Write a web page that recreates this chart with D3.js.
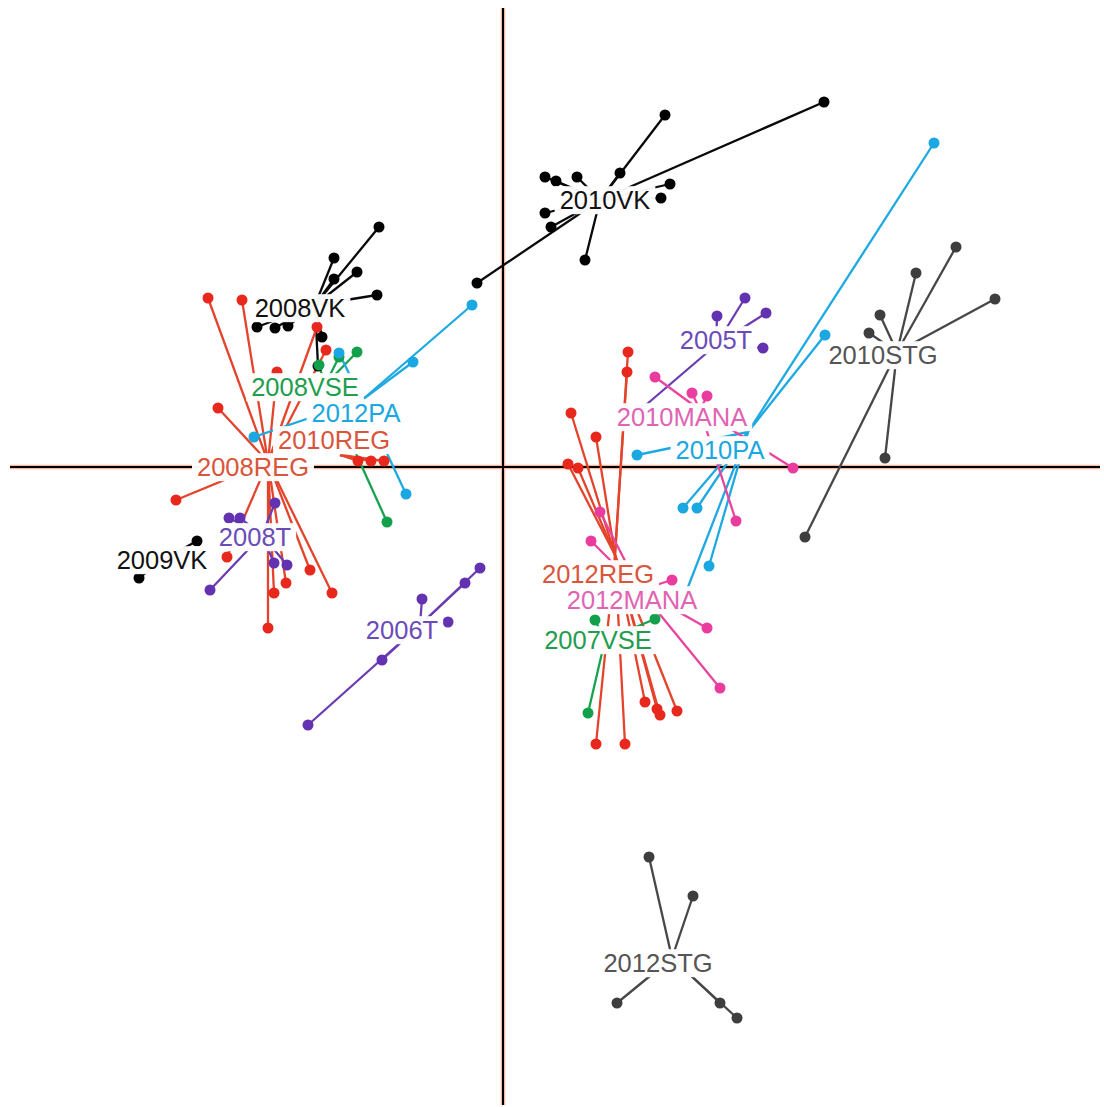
<!DOCTYPE html>
<html>
<head>
<meta charset="utf-8">
<script src="https://cdn.jsdelivr.net/npm/d3@7"></script>
<style>
  html, body { margin: 0; padding: 0; background: #fff; }
  svg { display: block; }
</style>
</head>
<body>
<svg id="chart" width="1104" height="1107"></svg>
<script>
// ---- Data (factor-plane coordinates) ----
const groups   = ["2010VK","2008VK","2009VK","2008REG","2010REG","2012REG","2008VSE","2007VSE","2012PA","2010PA","2005T","2008T","2006T","2010MANA","2012MANA","2010STG","2012STG"];
const groupType = ["VK","VK","VK","REG","REG","REG","VSE","VSE","PA","PA","T","T","T","MANA","MANA","STG","STG"];
const centroidX = [0.97, -1.88, -3.41, -2.35, -1.63, 1.12, -1.78, 1.02, -1.41, 2.45, 2.13, -2.41, -0.83, 1.97, 1.37, 3.94, 1.69];
const centroidY = [2.67, 1.62, -0.93, 0.05, 0.12, -0.88, 0.82, -1.73, 0.67, 0.35, 1.22, -0.68, -1.58, 0.57, -1.23, 1.15, -4.91];
const labelX    = [1.02, -2.03, -3.41, -2.50, -1.69, 0.95, -1.98, 0.95, -1.47, 2.17, 2.13, -2.48, -1.01, 1.79, 1.29, 3.80, 1.55];
const labelY    = [2.67, 1.59, -0.93, 0.00, 0.27, -1.07, 0.80, -1.73, 0.54, 0.17, 1.27, -0.70, -1.63, 0.50, -1.33, 1.12, -4.96];

const pointGroup = [
  0,0,0,0,0,0,0,0,0,0,0,0,
  1,1,1,1,1,1,1,1,1,1,
  2,2,
  3,3,3,3,3,3,3,3,3,3,3,3,3,
  4,4,4,
  5,5,5,5,5,5,5,5,5,5,5,5,
  6,6,6,6,
  7,7,7,
  8,8,8,8,8,
  9,9,9,9,9,9,9,
  10,10,10,10,10,
  11,11,11,11,11,11,
  12,12,12,12,12,12,
  13,13,13,13,13,
  14,14,14,14,14,
  15,15,15,15,15,15,15,
  16,16,16,16,16
];
const pointX = [
  3.21, 1.62, 1.17, 0.42, 0.53, 0.74, 1.67, 0.42, 0.48, -0.26, 0.82, 1.58,
  -1.24, -1.69, -1.46, -1.69, -1.26, -2.46, -2.28, -2.15, -1.81, -1.85,
  -3.06, -3.64,
  -2.95, -2.61, -2.85, -3.27, -2.76, -2.35, -2.29, -2.17, -1.93, -1.71, -1.86, -1.77, -2.26,
  -1.45, -1.32, -1.19,
  1.25, 1.24, 0.68, 0.93, 0.65, 0.75, 1.42, 1.54, 1.74, 1.57, 0.93, 1.22,
  -1.84, -1.64, -1.46, -1.16,
  0.92, 1.52, 0.85,
  -0.31, -0.90, -0.97, -2.49, -1.64,
  4.31, 3.22, 1.34, 1.80, 1.94, 2.06, 1.80,
  2.14, 2.42, 2.63, 2.60, 1.37,
  -2.74, -2.63, -2.93, -2.16, -2.29, -2.28,
  -0.23, -0.38, -0.81, -1.21, -1.95, -0.55,
  1.52, 1.89, 2.04, 2.90, 2.33,
  0.88, 2.04, 2.17, 1.69, 0.97,
  4.13, 4.53, 4.92, 3.77, 3.66, 3.82, 3.02,
  1.46, 1.90, 1.14, 2.17, 2.34
];
const pointY = [
  3.65, 3.52, 2.94, 2.90, 2.86, 2.90, 2.83, 2.54, 2.40, 1.84, 2.07, 2.69,
  2.40, 2.09, 1.95, 1.88, 1.72, 1.40, 1.39, 1.41, 1.30, 1.01,
  -0.74, -1.11,
  1.69, 1.67, 0.59, -0.33, -0.90, -1.61, -1.26, -1.16, -1.03, -1.26, 1.40, 1.17, 0.95,
  0.06, 0.06, 0.06,
  1.15, 0.95, 0.54, 0.30, 0.03, -0.01, -2.35, -2.42, -2.44, -2.48, -2.77, -2.77,
  1.02, 1.10, 1.15, -0.55,
  -1.53, -1.52, -2.46,
  1.62, 1.05, -0.27, 0.30, 1.14,
  3.24, 1.32, 0.12, -0.41, -0.41, -0.99, -1.33,
  1.51, 1.69, 1.54, 1.19, 0.57,
  -0.51, -0.51, -1.23, -0.98, -0.96, -0.36,
  -1.01, -1.16, -1.32, -1.93, -2.58, -1.55,
  0.90, 0.74, 0.71, -0.01, -0.54,
  -0.74, -1.61, -2.21, -1.13, -0.45,
  1.94, 2.20, 1.68, 1.52, 1.34, 0.09, -0.70,
  -3.90, -4.29, -5.36, -5.36, -5.51
];

// ---- Styles ----
const lineColor  = {VK:"#0a0a0a", REG:"#e4432c", VSE:"#17a24f", PA:"#1ea9e1", T:"#6a3db3", MANA:"#e8459e", STG:"#474747"};
const pointColor = {VK:"#000000", REG:"#e8281c", VSE:"#12a14a", PA:"#1aa7e2", T:"#6232b0", MANA:"#ea3b9e", STG:"#3e3e3e"};
const labelColor = {VK:"#111111", REG:"#d9553c", VSE:"#1e9e4e", PA:"#1ba7e0", T:"#6a4cb8", MANA:"#e064b4", STG:"#555555"};

const svg = d3.select("#chart");
const x = d3.scaleLinear().domain([-4.93, 5.97]).range([10, 1100]);
const y = d3.scaleLinear().domain([4.57, -6.38]).range([10, 1105]);

// axes through origin
const axes = svg.append("g");
[["#f6b79e", 4.5], ["#000", 2]].forEach(([c, w]) => {
  axes.append("line").attr("x1", x(0)).attr("x2", x(0)).attr("y1", 8).attr("y2", 1105)
    .attr("stroke", c).attr("stroke-width", w);
  axes.append("line").attr("x1", 10).attr("x2", 1100).attr("y1", y(0)).attr("y2", y(0))
    .attr("stroke", c).attr("stroke-width", w);
});

const pts = pointX.map((v, i) => ({g: pointGroup[i], x: v, y: pointY[i]}));

// star segments
svg.append("g").selectAll("line").data(pts).join("line")
  .attr("x1", d => x(centroidX[d.g])).attr("y1", d => y(centroidY[d.g]))
  .attr("x2", d => x(d.x)).attr("y2", d => y(d.y))
  .attr("stroke", d => lineColor[groupType[d.g]])
  .attr("stroke-width", 2.3);

// points
svg.append("g").selectAll("circle").data(pts).join("circle")
  .attr("cx", d => x(d.x)).attr("cy", d => y(d.y)).attr("r", 5.5)
  .attr("fill", d => pointColor[groupType[d.g]]);

// labels with white boxes
const lab = svg.append("g").selectAll("g").data(groups).join("g")
  .attr("transform", (d, i) => `translate(${x(labelX[i])},${y(labelY[i])})`);
lab.append("rect").attr("class", "bg");
lab.append("text")
  .attr("text-anchor", "middle")
  .attr("dy", "0.36em")
  .attr("font-family", "Liberation Sans, Arial, sans-serif")
  .attr("font-size", 25.5)
  .attr("fill", (d, i) => labelColor[groupType[i]])
  .text(d => d);
lab.each(function() {
  const g = d3.select(this);
  const bb = g.select("text").node().getBBox();
  g.select("rect")
    .attr("x", bb.x - 5).attr("y", bb.y)
    .attr("width", bb.width + 10).attr("height", bb.height)
    .attr("fill", "#fff").attr("fill-opacity", 0.96);
});
</script>
</body>
</html>
